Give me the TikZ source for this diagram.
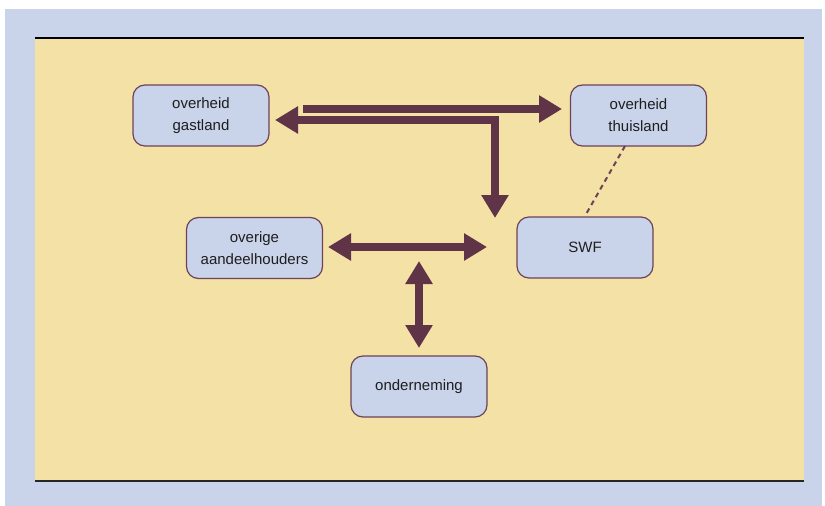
\documentclass[tikz,border=0pt]{standalone}
\usepackage{fontspec}
\setmainfont{Liberation Sans}
\usetikzlibrary{arrows.meta}
\definecolor{panelblue}{HTML}{C9D3EA}
\definecolor{sand}{HTML}{F3E1A6}
\definecolor{boxfill}{HTML}{C9D3EA}
\definecolor{boxline}{HTML}{6E4257}
\definecolor{arrowc}{HTML}{5F3447}
\definecolor{inktext}{HTML}{1E1E1E}
\tikzset{
  actor/.style={draw=boxline, line width=1.2pt, fill=boxfill, rounded corners=12pt,
    minimum width=136pt, minimum height=61pt, inner sep=0pt, align=center,
    font=\fontsize{15pt}{22pt}\selectfont, text=inktext},
  flow/.style={draw=arrowc, line width=8pt, line join=miter,
    arrows={Triangle[length=23pt,width=26pt]-Triangle[length=23pt,width=26pt]}},
  oneway/.style={draw=arrowc, line width=8pt,
    -{Triangle[length=23pt,width=26pt]}},
  link/.style={draw=boxline, line width=2pt, dash pattern=on 5pt off 4pt}
}
\begin{document}
\begin{tikzpicture}[x=1pt,y=-1pt]
\useasboundingbox (0,0) rectangle (825,506);
\fill[white] (0,0) rectangle (825,506);
\fill[panelblue] (5,9) rectangle (822,506);
\fill[sand] (35,38) rectangle (804,481);
\draw[black, line width=1.3pt] (35,38) -- (804,38);
\draw[black!85, line width=2pt] (35,481) -- (804,481);

\node[actor] (gast) at (201,115.5) {overheid\\gastland};
\node[actor] (thuis) at (638.5,115.5) {overheid\\thuisland};
\node[actor] (swf) at (585,247.5) {SWF};
\node[actor] (overig) at (254.5,248) {overige\\aandeelhouders};
\node[actor] (onder) at (419,386.5) {onderneming};

\coordinate (t1) at (303,109);
\coordinate (t2) at (562,109);
\coordinate (g1) at (275,120);
\coordinate (corner) at (495,120);
\coordinate (g2) at (495,218);
\coordinate (h1) at (328,247);
\coordinate (h2) at (487,247);
\coordinate (v1) at (419,261);
\coordinate (v2) at (419,348);
\coordinate (d1) at (625,146);
\coordinate (d2) at (585,216);

\draw[oneway] (t1) -- (t2);
\draw[flow] (g1) -- (corner) -- (g2);
\draw[flow] (h1) -- (h2);
\draw[flow] (v1) -- (v2);

\draw[link] (d1) -- (d2);
\end{tikzpicture}
\end{document}
